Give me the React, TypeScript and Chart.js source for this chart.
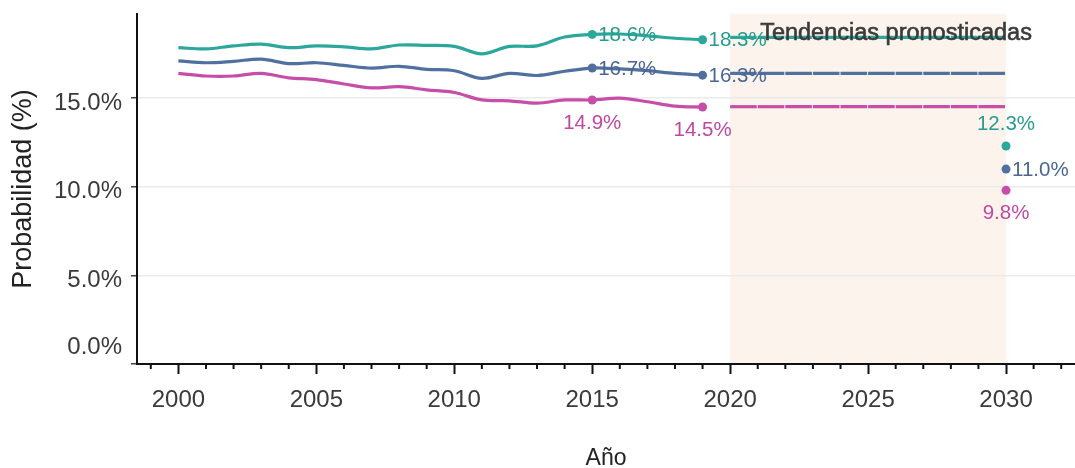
import React, { useEffect, useRef } from 'react';
import { Chart, registerables } from 'chart.js';

Chart.register(...registerables);

// ---- Data ----
const years = [2000, 2001, 2002, 2003, 2004, 2005, 2006, 2007, 2008, 2009, 2010, 2011, 2012, 2013, 2014, 2015, 2016, 2017, 2018, 2019];
const tealHist = [17.85, 17.78, 17.95, 18.05, 17.85, 17.95, 17.9, 17.78, 18.0, 17.98, 17.92, 17.5, 17.92, 17.95, 18.45, 18.6, 18.62, 18.52, 18.38, 18.3];
const blueHist = [17.1, 17.0, 17.08, 17.2, 16.95, 17.0, 16.85, 16.7, 16.8, 16.63, 16.55, 16.12, 16.4, 16.28, 16.52, 16.7, 16.65, 16.55, 16.4, 16.3];
const magentaHist = [16.4, 16.25, 16.25, 16.4, 16.15, 16.05, 15.8, 15.58, 15.65, 15.47, 15.32, 14.9, 14.85, 14.72, 14.9, 14.9, 15.0, 14.8, 14.55, 14.5];

const forecastYears = [2020, 2021, 2022, 2023, 2024, 2025, 2026, 2027, 2028, 2029, 2030];
const tealForecast = [18.43, 18.43, 18.43, 18.43, 18.43, 18.43, 18.43, 18.43, 18.43, 18.43, 18.43];
const blueForecast = [16.4, 16.4, 16.4, 16.4, 16.4, 16.4, 16.4, 16.4, 16.4, 16.4, 16.4];
const magentaForecast = [14.52, 14.52, 14.52, 14.52, 14.52, 14.52, 14.52, 14.52, 14.52, 14.52, 14.52];

const markerYears = [2015, 2019];
const tealMarkers = [18.6, 18.3];
const blueMarkers = [16.7, 16.3];
const magentaMarkers = [14.9, 14.5];

const targetYears = [2030];
const tealTarget = [12.3];
const blueTarget = [11.0];
const magentaTarget = [9.8];

const forecastRange = [2020, 2030];
const forecastLabel = 'Tendencias pronosticadas';
const xTickYears = [2000, 2005, 2010, 2015, 2020, 2025, 2030];
const yTickValues = [0, 5, 10, 15];

const xTitle = 'Año';
const yTitle = 'Probabilidad (%)';

// ---- Styles ----
const FONT = '"Liberation Sans", Arial, sans-serif';
const TEAL = '#2ba89b';
const BLUE = '#50709f';
const MAGENTA = '#c74ea8';
const TEAL_T = '#279c8f';
const BLUE_T = '#4a6692';
const MAGENTA_T = '#c048a1';

const pts = (xs: number[], ys: number[]) => xs.map((x, i) => ({ x, y: ys[i] }));
const fmt = (v: number) => v.toFixed(1) + '%';

export default function App() {
  const ref = useRef<HTMLCanvasElement>(null);

  useEffect(() => {
    const histDs = (data: number[], color: string) => ({
      data: pts(years, data),
      borderColor: color,
      backgroundColor: color,
      borderWidth: 3.2,
      pointRadius: 0,
      tension: 0.35,
      fill: false,
    });
    const fcDs = (data: number[], color: string) => ({
      data: pts(forecastYears, data),
      borderColor: color,
      backgroundColor: color,
      borderWidth: 3.2,
      pointRadius: 0,
      tension: 0,
      fill: false,
      segment: {
        borderDash: (c: any) => {
          const d = Math.abs(c.p1.x - c.p0.x);
          return [d - 1, 1];
        },
      },
    });
    const dotDs = (xs: number[], data: number[], color: string) => ({
      data: pts(xs, data),
      borderColor: color,
      backgroundColor: color,
      showLine: false,
      pointRadius: 4.5,
      pointBorderWidth: 0,
    });

    const shadePlugin = {
      id: 'shade',
      beforeDraw(chart: any) {
        const { ctx, chartArea, scales } = chart;
        const x0 = scales.x.getPixelForValue(forecastRange[0]);
        const x1 = scales.x.getPixelForValue(forecastRange[1]);
        ctx.save();
        ctx.fillStyle = '#fbf3ec';
        ctx.fillRect(x0, chartArea.top, x1 - x0, chartArea.bottom - chartArea.top);
        ctx.restore();
      },
    };

    const labelsPlugin = {
      id: 'labels',
      afterDatasetsDraw(chart: any) {
        const { ctx, scales } = chart;
        const xs = scales.x;
        const ys = scales.y;
        ctx.save();
        ctx.font = `20.5px ${FONT}`;
        ctx.textBaseline = 'middle';
        const put = (xv: number, yv: number, color: string, pos: string) => {
          const px = xs.getPixelForValue(xv);
          const py = ys.getPixelForValue(yv);
          ctx.fillStyle = color;
          const t = fmt(yv);
          if (pos === 'right') {
            ctx.textAlign = 'left';
            ctx.fillText(t, px + 6, py + 1);
          } else if (pos === 'below') {
            ctx.textAlign = 'center';
            ctx.fillText(t, px, py + 23);
          } else {
            ctx.textAlign = 'center';
            ctx.fillText(t, px, py - 22);
          }
        };
        markerYears.forEach((yr, i) => {
          put(yr, tealMarkers[i], TEAL_T, 'right');
          put(yr, blueMarkers[i], BLUE_T, 'right');
          put(yr, magentaMarkers[i], MAGENTA_T, 'below');
        });
        targetYears.forEach((yr, i) => {
          put(yr, tealTarget[i], TEAL_T, 'above');
          put(yr, blueTarget[i], BLUE_T, 'right');
          put(yr, magentaTarget[i], MAGENTA_T, 'below');
        });

        // forecast annotation
        const fx = xs.getPixelForValue(forecastRange[0]) + 30;
        ctx.font = `23.5px ${FONT}`;
        ctx.textAlign = 'left';
        ctx.fillStyle = '#3a3a3a';
        ctx.strokeStyle = '#3a3a3a';
        ctx.lineWidth = 0.6;
        ctx.strokeText(forecastLabel, fx, 34);
        ctx.fillText(forecastLabel, fx, 34);
        ctx.restore();
      },
      afterDraw(chart: any) {
        const { ctx, scales, chartArea } = chart;
        const xs = scales.x;
        const ys = scales.y;
        ctx.save();
        // minor x ticks
        ctx.strokeStyle = '#111';
        ctx.lineWidth = 2;
        for (let yr = Math.ceil(xs.min); yr <= Math.floor(xs.max); yr++) {
          if (xTickYears.includes(yr)) continue;
          const px = xs.getPixelForValue(yr);
          ctx.beginPath();
          ctx.moveTo(px, chartArea.bottom);
          ctx.lineTo(px, chartArea.bottom + 5);
          ctx.stroke();
        }
        // zero label on y axis
        ctx.font = `24px ${FONT}`;
        ctx.fillStyle = '#3a3a3a';
        ctx.textAlign = 'right';
        ctx.textBaseline = 'middle';
        ctx.fillText(yTickValues[0].toFixed(1) + '%', chartArea.left - 15, ys.getPixelForValue(0) - 17);
        ctx.restore();
      },
    };

    const chart = new Chart(ref.current as HTMLCanvasElement, {
      type: 'line',
      data: {
        datasets: [
          fcDs(tealForecast, TEAL),
          fcDs(blueForecast, BLUE),
          fcDs(magentaForecast, MAGENTA),
          histDs(tealHist, TEAL),
          histDs(blueHist, BLUE),
          histDs(magentaHist, MAGENTA),
          dotDs(markerYears, tealMarkers, TEAL),
          dotDs(markerYears, blueMarkers, BLUE),
          dotDs(markerYears, magentaMarkers, MAGENTA),
          dotDs(targetYears, tealTarget, TEAL),
          dotDs(targetYears, blueTarget, BLUE),
          dotDs(targetYears, magentaTarget, MAGENTA),
        ] as any,
      },
      options: {
        animation: false,
        responsive: true,
        maintainAspectRatio: false,
        layout: { autoPadding: false, padding: { top: 14, right: 0, left: 0, bottom: 0 } },
        plugins: { legend: { display: false }, tooltip: { enabled: false } },
        scales: {
          x: {
            type: 'linear',
            min: 1998.5,
            max: 2032.5,
            afterFit: (s: any) => { s.height = 104; s.paddingLeft = 0; s.paddingRight = 0; },
            afterBuildTicks: (s: any) => { s.ticks = xTickYears.map((v) => ({ value: v })); },
            grid: { display: true, drawOnChartArea: false, drawTicks: true, tickLength: 10, tickColor: '#111', tickWidth: 2 },
            border: { display: true, color: '#111', width: 2 },
            ticks: {
              padding: 12,
              color: '#3a3a3a',
              font: { family: FONT, size: 24 },
              maxRotation: 0,
              autoSkip: false,
              callback: (v: any) => String(v),
            },
            title: {
              display: true,
              text: xTitle,
              color: '#222',
              font: { family: FONT, size: 23, lineHeight: 1 },
              padding: { top: 0, bottom: -2 },
            },
          },
          y: {
            type: 'linear',
            min: 0,
            max: 19.75,
            afterFit: (s: any) => { s.width = 137; s.paddingTop = 0; s.paddingBottom = 0; },
            afterBuildTicks: (s: any) => { s.ticks = yTickValues.map((v) => ({ value: v })); },
            grid: {
              display: true,
              drawOnChartArea: true,
              color: (c: any) => (c.tick && c.tick.value === 0 ? 'rgba(0,0,0,0)' : '#ebebeb'),
              lineWidth: 1.5,
              drawTicks: true,
              tickLength: 6,
              tickColor: '#444',
              tickWidth: 1.5,
            },
            border: { display: true, color: '#111', width: 2 },
            ticks: {
              padding: 9,
              labelOffset: 5,
              color: '#3a3a3a',
              font: { family: FONT, size: 24 },
              callback: (v: any) => (v === 0 ? '' : Number(v).toFixed(1) + '%'),
            },
            title: {
              display: true,
              text: yTitle,
              color: '#222',
              font: { family: FONT, size: 27 },
              padding: { top: 7, bottom: 0 },
            },
          },
        },
      },
      plugins: [shadePlugin, labelsPlugin],
    } as any);

    return () => chart.destroy();
  }, []);

  return (
    <div style={{ position: 'fixed', left: 0, top: 0, width: 1075, height: 468 }}>
      <canvas ref={ref} />
    </div>
  );
}
